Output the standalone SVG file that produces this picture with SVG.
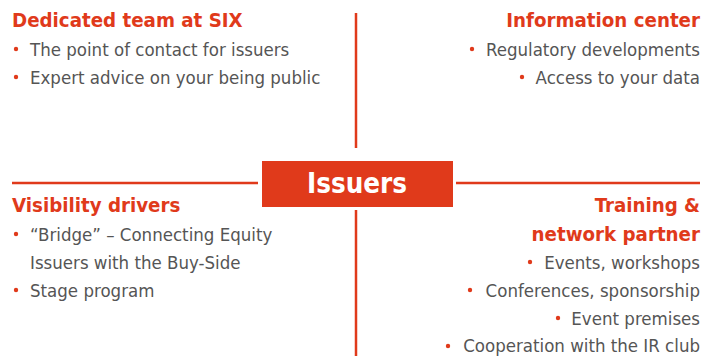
<svg xmlns="http://www.w3.org/2000/svg" width="702" height="356" viewBox="0 0 702 356">
<style>
.h{font-family:"DejaVu Sans Condensed","DejaVu Sans",sans-serif;font-stretch:condensed;font-weight:bold;font-size:20.3px;fill:#e03a1b}
.t{font-family:"DejaVu Sans Condensed","DejaVu Sans",sans-serif;font-stretch:condensed;font-size:18.5px;fill:#555}
.b{fill:#e03a1b}
.ln{stroke:#e03a1b;stroke-width:2.5;fill:none}
.r{text-anchor:end}
</style>
<rect width="702" height="356" fill="#fff"/>
<g id="connectors">
<line class="ln" x1="356" y1="13" x2="356" y2="148"/>
<line class="ln" x1="356" y1="210" x2="356" y2="356"/>
<line class="ln" x1="12" y1="183" x2="258" y2="183"/>
<line class="ln" x1="456" y1="183" x2="700" y2="183"/>
</g>
<g id="issuers">
<rect x="262" y="161" width="191" height="46" fill="#e03a1b"/>
<text x="357" y="193" text-anchor="middle" style="font-family:'DejaVu Sans Condensed','DejaVu Sans',sans-serif;font-stretch:condensed;font-weight:bold;font-size:27.5px;fill:#fff">Issuers</text>
</g>
<g id="dedicated-team">
<text class="h" x="12" y="27">Dedicated team at SIX</text>
<circle class="b" cx="16" cy="49" r="2.2"/>
<text class="t" x="30" y="56">The point of contact for issuers</text>
<circle class="b" cx="16" cy="77" r="2.2"/>
<text class="t" x="30" y="84">Expert advice on your being public</text>
</g>
<g id="information-center">
<text class="h r" x="700" y="27">Information center</text>
<circle class="b" cx="472" cy="49" r="2.2"/>
<text class="t r" x="700" y="56">Regulatory developments</text>
<circle class="b" cx="522" cy="77" r="2.2"/>
<text class="t r" x="700" y="84">Access to your data</text>
</g>
<g id="visibility-drivers">
<text class="h" x="12" y="212">Visibility drivers</text>
<circle class="b" cx="16" cy="234" r="2.2"/>
<text class="t" x="30" y="241">“Bridge” – Connecting Equity</text>
<text class="t" x="30" y="269">Issuers with the Buy-Side</text>
<circle class="b" cx="16" cy="290" r="2.2"/>
<text class="t" x="30" y="297">Stage program</text>
</g>
<g id="training-partner">
<text class="h r" x="700" y="212">Training &amp;</text>
<text class="h r" x="700" y="241">network partner</text>
<circle class="b" cx="530" cy="262" r="2.2"/>
<text class="t r" x="700" y="269">Events, workshops</text>
<circle class="b" cx="470" cy="290" r="2.2"/>
<text class="t r" x="700" y="297">Conferences, sponsorship</text>
<circle class="b" cx="558" cy="318" r="2.2"/>
<text class="t r" x="700" y="325">Event premises</text>
<circle class="b" cx="448" cy="346" r="2.2"/>
<text class="t r" x="700" y="352">Cooperation with the IR club</text>
</g>
</svg>
